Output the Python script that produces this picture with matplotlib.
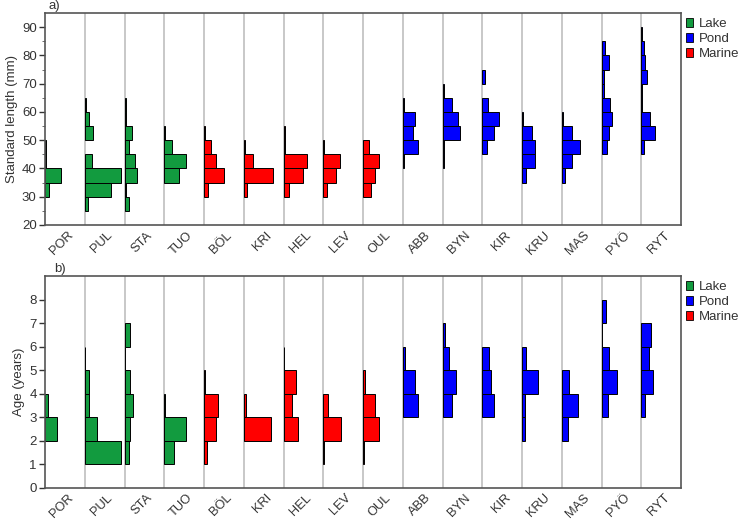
import matplotlib
matplotlib.use("Agg")
import matplotlib.pyplot as plt
from matplotlib.patches import Patch

plt.rcParams["font.family"] = ["Liberation Sans", "DejaVu Sans"]

# populations, left to right
pops = ["POR", "PUL", "STA", "TUO", "BÖL", "KRI", "HEL", "LEV", "OUL",
        "ABB", "BYN", "KIR", "KRU", "MAS", "PYÖ", "RYT"]
habitat = ["Lake"] * 4 + ["Marine"] * 5 + ["Pond"] * 7
hab_colors = {"Lake": "#129b3f", "Pond": "#0000ff", "Marine": "#ff0000"}

# a) standard length, 5 mm bins (lower edges), counts per bin
sl_bins = [25, 30, 35, 40, 45, 50, 55, 60, 65, 70, 75, 80, 85]
sl_counts = {
    "POR": [0, 2, 8, 0.5, 0.5, 0, 0, 0, 0, 0, 0, 0, 0],
    "PUL": [1.5, 13, 18, 3.5, 0, 4, 2, 0.5, 0, 0, 0, 0, 0],
    "STA": [2.5, 0.5, 6.5, 5.5, 2.5, 4, 0.5, 0.5, 0, 0, 0, 0, 0],
    "TUO": [0, 0, 7.5, 11, 4, 0.5, 0, 0, 0, 0, 0, 0, 0],
    "BÖL": [0, 2, 10, 6, 3.5, 0.5, 0, 0, 0, 0, 0, 0, 0],
    "KRI": [0, 1.5, 14.5, 4.5, 0.5, 0, 0, 0, 0, 0, 0, 0, 0],
    "HEL": [0, 2.5, 10, 12, 0.5, 0.5, 0, 0, 0, 0, 0, 0, 0],
    "LEV": [0, 2, 6.5, 8.5, 0.5, 0, 0, 0, 0, 0, 0, 0, 0],
    "OUL": [0, 4, 6, 8, 3, 0, 0, 0, 0, 0, 0, 0, 0],
    "ABB": [0, 0, 0, 0.5, 7.5, 5, 6, 0.5, 0, 0, 0, 0, 0],
    "BYN": [0, 0, 0, 0.5, 0.5, 8.5, 7.5, 4.5, 0.5, 0, 0, 0, 0],
    "KIR": [0, 0, 0, 0, 2.5, 6, 8.5, 3, 0, 1.5, 0, 0, 0],
    "KRU": [0, 0, 2, 6.5, 6.5, 5, 0.5, 0, 0, 0, 0, 0, 0],
    "MAS": [0, 0, 1.5, 5, 9, 5, 0.5, 0, 0, 0, 0, 0, 0],
    "PYÖ": [0, 0, 0, 0, 2.5, 3.5, 5, 4, 1, 1, 3.5, 1.5, 0],
    "RYT": [0, 0, 0, 0, 1.5, 7, 4.5, 0.5, 0.5, 3, 2, 1.5, 0.5],
}

# b) age, 1 year bins (lower edges)
age_bins = [1, 2, 3, 4, 5, 6, 7]
age_counts = {
    "POR": [0, 6, 1.5, 0, 0, 0, 0],
    "PUL": [18, 6, 2, 2, 0.3, 0, 0],
    "STA": [2, 3, 4.5, 3, 0.3, 3, 0],
    "TUO": [5, 11, 0.3, 0, 0, 0, 0],
    "BÖL": [1.3, 6, 7, 0.3, 0, 0, 0],
    "KRI": [0, 13.5, 1.3, 0, 0, 0, 0],
    "HEL": [0, 7.5, 4, 6, 0.3, 0, 0],
    "LEV": [0.3, 9, 2.5, 0, 0, 0, 0],
    "OUL": [0.3, 8, 6, 1, 0, 0, 0],
    "ABB": [0, 0, 7.5, 6, 1, 0, 0],
    "BYN": [0, 0, 4.5, 6.5, 3, 1, 0],
    "KIR": [0, 0, 6, 4.5, 3.5, 0, 0],
    "KRU": [0, 1.3, 1.3, 8, 2, 0, 0],
    "MAS": [0, 3, 8, 3.5, 0, 0, 0],
    "PYÖ": [0, 0, 3, 7.5, 3.5, 0.3, 2],
    "RYT": [0, 0, 2, 6, 4, 5, 0],
}

SCALE = 0.05  # slot width = 20 counts
dark = "#333333"


def draw_panel(ax, bins, counts, binw, ylim, yticks, ylabel, tag, tag_x):
    for i, p in enumerate(pops):
        if i > 0:
            ax.axvline(i, color="#c4c4c4", lw=1.3, zorder=0)
        col = hab_colors[habitat[i]]
        for b, c in zip(bins, counts[p]):
            if c <= 0:
                continue
            ax.barh(b, c * SCALE, height=binw, left=i, align="edge",
                    color=col, edgecolor="black", lw=0.7, zorder=2)
    ax.set_xlim(0, len(pops))
    ax.set_ylim(*ylim)
    ax.set_yticks(yticks)
    ax.set_xticks([i + 0.55 for i in range(len(pops))])
    ax.set_xticklabels(pops, rotation=45, ha="right", rotation_mode="anchor",
                       fontsize=9.3, color=dark)
    ax.tick_params(axis="x", length=0, pad=3)
    ax.tick_params(axis="y", labelsize=9.5, colors=dark, length=4, width=1,
                   direction="out", pad=2)
    ax.set_ylabel(ylabel, fontsize=9.5, color=dark, labelpad=3)
    for s in ax.spines.values():
        s.set_color("#555555")
        s.set_linewidth(1.2)
    ax.text(tag_x, 1.005, tag, transform=ax.transAxes, fontsize=9.5,
            color=dark, va="bottom", ha="left")
    handles = [Patch(facecolor=hab_colors[h], edgecolor="black", lw=0.6, label=h)
               for h in ["Lake", "Pond", "Marine"]]
    ax.legend(handles=handles, loc="upper left", bbox_to_anchor=(0.993, 1.02),
              frameon=False, fontsize=9.5, handlelength=0.55, handleheight=0.7,
              handletextpad=0.45, labelspacing=0.2, borderaxespad=0.3,
              labelcolor=dark)


fig = plt.figure(figsize=(7.45, 5.22), dpi=100)
ax1 = fig.add_axes([0.0604, 0.569, 0.854, 0.406])
ax2 = fig.add_axes([0.0604, 0.066, 0.854, 0.405])

draw_panel(ax1, sl_bins, sl_counts, 5, (20, 95), range(20, 100, 10),
           "Standard length (mm)", "a)", 0.005)
ax1.set_yticks(range(20, 95, 5), minor=True)
ax1.tick_params(axis="y", which="minor", length=2.5, colors="#555555")

draw_panel(ax2, age_bins, age_counts, 1, (0, 9), range(0, 9),
           "Age (years)", "b)", 0.014)

fig.savefig("out.png", dpi=100)
